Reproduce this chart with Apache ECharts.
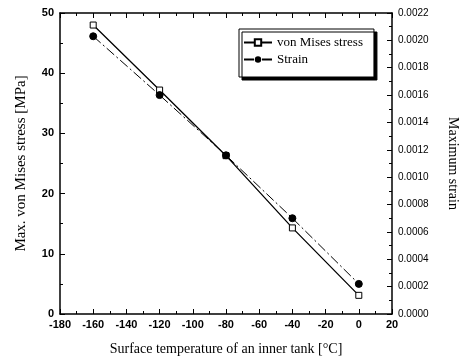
<!DOCTYPE html>
<html>
<head>
<meta charset="utf-8">
<script src="https://cdn.jsdelivr.net/npm/echarts@6/dist/echarts.min.js"></script>
<style>
  html, body { margin: 0; padding: 0; background: #fff; }
  #chart { width: 464px; height: 364px; }
</style>
</head>
<body>
<div id="chart"></div>
<script>
// temperatures [°C]
const temps = [-160, -120, -80, -40, 0];
// max von Mises stress [MPa]
const stress = [48.0, 37.2, 26.3, 14.3, 3.1];
// max strain
const strain = [0.00203, 0.00160, 0.00116, 0.00070, 0.00022];

const chart = echarts.init(document.getElementById('chart'));

const sans = 'Liberation Sans';
const serif = 'Liberation Serif';

const tickStyle = { inside: true, length: 5, lineStyle: { color: '#000' } };
const minorStyle = { show: true, splitNumber: 2, length: 3, lineStyle: { color: '#000' } };

const option = {
  animation: false,
  backgroundColor: '#fff',
  grid: { left: 60, right: 72, top: 13, bottom: 50, outerBoundsMode: 'none' },
  legend: {
    top: 29, left: 239,
    orient: 'vertical',
    itemGap: 4,
    itemWidth: 28,
    itemHeight: 8,
    padding: [7, 11, 11, 4],
    backgroundColor: '#fff',
    borderColor: '#000',
    borderWidth: 1,
    shadowColor: '#000',
    shadowOffsetX: 3,
    shadowOffsetY: 3,
    shadowBlur: 0,
    textStyle: { fontFamily: serif, fontSize: 13, color: '#000' },
    data: ['von Mises stress', 'Strain']
  },
  xAxis: [{
    type: 'value', min: -180, max: 20, interval: 20,
    axisLine: { onZero: false, lineStyle: { color: '#000', width: 1.5 } },
    axisTick: tickStyle,
    minorTick: minorStyle,
    axisLabel: { color: '#000', fontFamily: sans, fontSize: 11, fontWeight: 'bold', margin: 5 },
    splitLine: { show: false },
    name: 'Surface temperature of an inner tank [\u00b0C]',
    nameLocation: 'middle', nameGap: 28,
    nameTextStyle: { fontFamily: serif, fontSize: 14, color: '#000' }
  }, {
    type: 'value', position: 'top', min: -180, max: 20, interval: 20,
    axisLine: { show: true, onZero: false, lineStyle: { color: '#000', width: 1.5 } },
    axisTick: tickStyle,
    minorTick: minorStyle,
    axisLabel: { show: false },
    splitLine: { show: false }
  }],
  yAxis: [{
    type: 'value', min: 0, max: 50, interval: 10,
    axisLine: { show: true, onZero: false, lineStyle: { color: '#000', width: 1.5 } },
    axisTick: tickStyle,
    minorTick: minorStyle,
    axisLabel: { color: '#000', fontFamily: sans, fontSize: 11, fontWeight: 'bold', margin: 6 },
    splitLine: { show: false },
    name: 'Max. von Mises stress [MPa]',
    nameLocation: 'middle', nameGap: 31,
    nameTextStyle: { fontFamily: serif, fontSize: 15, color: '#000' }
  }, {
    type: 'value', min: 0, max: 0.0022, interval: 0.0002,
    position: 'right',
    axisLine: { show: true, onZero: false, lineStyle: { color: '#000', width: 1.5 } },
    axisTick: tickStyle,
    minorTick: minorStyle,
    axisLabel: {
      color: '#000', fontFamily: sans, fontSize: 10, margin: 6,
      formatter: v => v.toFixed(4)
    },
    splitLine: { show: false },
    name: 'Maximum strain',
    nameLocation: 'middle', nameGap: 54, nameRotate: -90,
    nameTextStyle: { fontFamily: serif, fontSize: 14, color: '#000' }
  }],
  series: [{
    name: 'von Mises stress',
    type: 'line',
    xAxisIndex: 0, yAxisIndex: 0,
    data: temps.map((t, i) => [t, stress[i]]),
    symbol: 'rect', symbolSize: 6,
    itemStyle: { color: '#fff', borderColor: '#000', borderWidth: 1 },
    lineStyle: { color: '#000', width: 1.3 },
    z: 3
  }, {
    name: 'Strain',
    type: 'line',
    xAxisIndex: 0, yAxisIndex: 1,
    data: temps.map((t, i) => [t, strain[i]]),
    symbol: 'circle', symbolSize: 7,
    itemStyle: { color: '#000', borderColor: '#000' },
    lineStyle: { color: '#000', width: 1, type: [10, 3, 2, 3] },
    z: 4
  }]
};

chart.setOption(option);
</script>
</body>
</html>
